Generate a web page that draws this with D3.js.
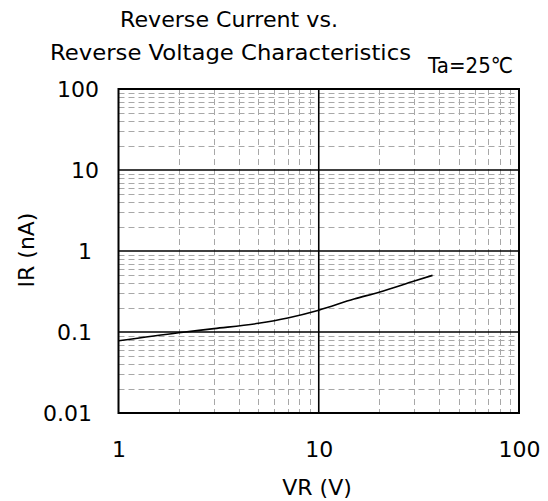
<!DOCTYPE html>
<html><head><meta charset="utf-8">
<script src="https://cdn.jsdelivr.net/npm/d3@7"></script>
<style>
html,body{margin:0;padding:0;background:#fff;}
text{font-family:"DejaVu Sans",sans-serif;fill:#000;}
</style></head>
<body>
<svg id="c" width="548" height="501"></svg>
<script>
// Data
const vr = [1, 2, 3, 5, 7, 10, 15, 20, 30, 37];
const ir = [0.078, 0.098, 0.11, 0.128, 0.149, 0.186, 0.255, 0.31, 0.425, 0.5];
const xTicks = [1, 10, 100];
const xTickLabels = ["1", "10", "100"];
const yTicks = [0.01, 0.1, 1, 10, 100];
const yTickLabels = ["0.01", "0.1", "1", "10", "100"];
const titleLines = ["Reverse Current vs.", "Reverse Voltage Characteristics"];
const condition = "Ta=25℃";
const xLabel = "VR (V)";
const yLabel = "IR (nA)";

const svg = d3.select("#c");
const L = 118.5, R = 519, T = 89, B = 413;
const x = d3.scaleLog().domain([1, 100]).range([L, R]);
const y = d3.scaleLog().domain([0.01, 100]).range([B, T]);

// minor grid
const minorX = [], minorY = [];
for (let d = 1; d < 100; d *= 10) for (let k = 2; k <= 9; k++) minorX.push(d * k);
for (let d = 0.01; d < 99; d *= 10) for (let k = 2; k <= 9; k++) minorY.push(+(d * k).toPrecision(3));

const g = svg.append("g");
g.selectAll(".mx").data(minorX).join("line")
  .attr("x1", d => Math.round(x(d)) + 0.5).attr("x2", d => Math.round(x(d)) + 0.5)
  .attr("y1", T).attr("y2", B)
  .attr("stroke", "#a8a8a8").attr("stroke-width", 1).attr("stroke-dasharray", "6,4");
g.selectAll(".my").data(minorY).join("line")
  .attr("y1", d => Math.round(y(d)) + 0.5).attr("y2", d => Math.round(y(d)) + 0.5)
  .attr("x1", L).attr("x2", R)
  .attr("stroke", "#a8a8a8").attr("stroke-width", 1).attr("stroke-dasharray", "6,4");

// major grid
g.selectAll(".Mx").data([10]).join("line")
  .attr("x1", d => x(d)).attr("x2", d => x(d)).attr("y1", T).attr("y2", B)
  .attr("stroke", "#000").attr("stroke-width", 1.6);
g.selectAll(".My").data([0.1, 1, 10]).join("line")
  .attr("y1", d => y(d)).attr("y2", d => y(d)).attr("x1", L).attr("x2", R)
  .attr("stroke", "#000").attr("stroke-width", 1.6);

// frame
svg.append("rect").attr("x", L).attr("y", T).attr("width", R - L).attr("height", B - T)
  .attr("fill", "none").attr("stroke", "#000").attr("stroke-width", 2);

// curve
const line = d3.line().x((d, i) => x(vr[i])).y(d => y(d)).curve(d3.curveMonotoneX);
svg.append("path").attr("d", line(ir)).attr("fill", "none").attr("stroke", "#000").attr("stroke-width", 1.6);

// axes labels
const xa = svg.append("g").attr("transform", `translate(0,${B})`)
  .call(d3.axisBottom(x).tickValues(xTicks).tickFormat((d, i) => xTickLabels[i]).tickSize(0).tickPadding(0));
xa.select(".domain").remove();
xa.selectAll("text").attr("y", 0).attr("dy", 0).attr("transform", "translate(0,44)")
  .style("font-size", "22px").attr("fill", "#000");

const ya = svg.append("g")
  .call(d3.axisLeft(y).tickValues(yTicks).tickFormat((d, i) => yTickLabels[i]).tickSize(0).tickPadding(0));
ya.select(".domain").remove();
ya.selectAll("text").attr("x", d => d >= 10 ? 99 : 92).attr("dy", "0.35em")
  .style("font-size", "22px").attr("fill", "#000");

// titles
svg.append("text").attr("x", 229).attr("y", 27).attr("text-anchor", "middle")
  .style("font-size", "22px").attr("textLength", 218).attr("lengthAdjust", "spacingAndGlyphs").text(titleLines[0]);
svg.append("text").attr("x", 50).attr("y", 60)
  .style("font-size", "22px").attr("textLength", 361).attr("lengthAdjust", "spacingAndGlyphs").text(titleLines[1]);
svg.append("text").attr("x", 428).attr("y", 73)
  .style("font-size", "22px").attr("textLength", 85).attr("lengthAdjust", "spacingAndGlyphs").text(condition);

svg.append("text").attr("x", 317).attr("y", 495).attr("text-anchor", "middle")
  .style("font-size", "22px").text(xLabel);
svg.append("text").attr("transform", "translate(34,250) rotate(-90)").attr("text-anchor", "middle")
  .style("font-size", "22px").text(yLabel);
</script>
</body></html>
